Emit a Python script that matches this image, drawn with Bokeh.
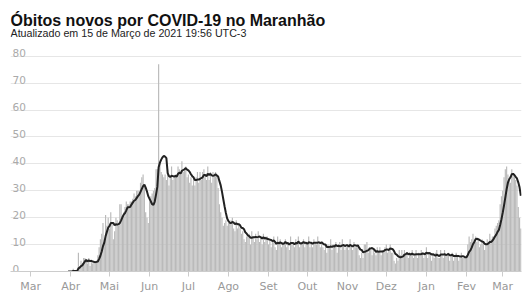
import pandas as pd
from bokeh.plotting import figure
from bokeh.models import Range1d, FixedTicker, ColumnDataSource
from bokeh.embed import file_html
from bokeh.resources import INLINE
from bokeh.core.properties import value

title_text = "Óbitos novos por COVID-19 no Maranhão"
subtitle_text = "Atualizado em 15 de Março de 2021 19:56 UTC-3"

start_date = "2020-03-30"
deaths = [
    0, 0, 0, 0, 1, 0, 0,
    0, 7, 2, 4, 3, 5, 5,
    4, 3, 5, 2, 4, 3, 4,
    3, 4, 6, 9, 12, 14, 18,
    12, 21, 17, 20, 16, 22, 18,
    12, 15, 20, 19, 17, 25, 25,
    20, 22, 24, 26, 25, 25, 26,
    26, 27, 29, 28, 30, 30, 30,
    33, 35, 36, 32, 22, 20, 18,
    26, 28, 29, 30, 31, 38, 38,
    77, 40, 37, 36, 35, 36, 34,
    38, 32, 35, 39, 34, 35, 36,
    36, 39, 38, 37, 41, 37, 38,
    39, 35, 36, 33, 35, 32, 35,
    32, 35, 37, 33, 37, 34, 37,
    38, 35, 34, 39, 34, 37, 33,
    37, 36, 37, 36, 31, 25, 22,
    20, 17, 18, 19, 17, 18, 18,
    19, 20, 16, 15, 19, 16, 18,
    16, 14, 15, 12, 11, 13, 13,
    14, 10, 15, 13, 11, 14, 12,
    15, 11, 13, 10, 14, 11, 13,
    13, 10, 12, 9, 11, 13, 9,
    8, 13, 10, 12, 9, 11, 10,
    12, 9, 11, 8, 13, 11, 10,
    9, 12, 10, 13, 9, 10, 11,
    12, 9, 11, 10, 13, 9, 11,
    9, 12, 11, 10, 13, 10, 9,
    11, 9, 8, 10, 7, 10, 9,
    12, 8, 10, 9, 11, 7, 10,
    11, 8, 12, 10, 8, 9, 10,
    8, 12, 10, 8, 11, 9, 9,
    9, 6, 5, 7, 5, 10, 10,
    11, 7, 9, 8, 6, 8, 7,
    6, 9, 7, 9, 6, 8, 8,
    9, 10, 7, 8, 10, 7, 7,
    4, 3, 5, 4, 8, 6, 8,
    5, 8, 6, 7, 5, 7, 6,
    8, 5, 6, 8, 5, 7, 6,
    8, 7, 5, 7, 9, 5, 7,
    7, 4, 6, 5, 7, 8, 5,
    5, 8, 6, 5, 8, 6, 6,
    7, 4, 6, 7, 4, 6, 7,
    6, 4, 5, 7, 5, 5, 5,
    6, 10, 13, 11, 12, 14, 11,
    13, 11, 12, 9, 10, 12, 10,
    8, 10, 12, 11, 14, 12, 13,
    13, 16, 17, 18, 19, 25, 28,
    30, 35, 38, 39, 36, 34, 33,
    38, 36, 35, 34, 32, 24, 20,
    16,
]

month_starts = ["2020-03-01", "2020-04-01", "2020-05-01", "2020-06-01", "2020-07-01",
                "2020-08-01", "2020-09-01", "2020-10-01", "2020-11-01", "2020-12-01",
                "2021-01-01", "2021-02-01", "2021-03-01"]
month_labels = ["Mar", "Abr", "Mai", "Jun", "Jul", "Ago", "Set", "Out", "Nov", "Dez",
                "Jan", "Fev", "Mar"]
y_ticks = [0, 10, 20, 30, 40, 50, 60, 70, 80]

base = pd.Timestamp("2020-03-01")
dates = pd.date_range(start_date, periods=len(deaths), freq="D")
days = [int(d) for d in (dates - base).days]
avg = pd.Series(deaths, dtype=float).rolling(7, min_periods=1).mean().tolist()
tick_days = [int((pd.Timestamp(m) - base).days) for m in month_starts]

src = ColumnDataSource(dict(day=days, deaths=deaths, avg=avg))

x0, x1 = -15.5, 379.5
y_top = 100.7
p = figure(width=532, height=299, output_backend="svg", toolbar_location=None,
           x_range=Range1d(x0, x1), y_range=Range1d(0, y_top),
           min_border_left=10, min_border_right=11, min_border_top=0,
           min_border_bottom=28, outline_line_color=None,
           background_fill_color="white", border_fill_color="white")

p.yaxis.visible = False
p.xgrid.visible = False
p.ygrid.ticker = FixedTicker(ticks=y_ticks[1:])
p.ygrid.grid_line_color = "#e6e6e6"
p.ygrid.grid_line_width = 1

ax = p.xaxis[0]
ax.ticker = FixedTicker(ticks=tick_days)
ax.major_label_overrides = {t: l for t, l in zip(tick_days, month_labels)}
ax.axis_line_color = "#cccccc"
ax.major_tick_line_color = "#cccccc"
ax.major_tick_out = 5
ax.major_tick_in = 0
ax.minor_tick_line_color = None
ax.major_label_text_font = "DejaVu Sans"
ax.major_label_text_font_size = "11px"
ax.major_label_text_color = "#999999"
ax.major_label_standoff = 3

p.vbar(x="day", top="deaths", bottom=0, width=0.9, source=src,
       fill_color="#bababa", line_color=None)
p.line(x="day", y="avg", source=src, line_color="#222222", line_width=2)

p.text(x=[x0] * len(y_ticks), y=y_ticks, text=[str(v) for v in y_ticks],
       text_font=value("DejaVu Sans"), text_font_size="10.5px", text_color="#aaaaaa",
       text_baseline="alphabetic", text_align="left", x_offset=2, y_offset=-3)

p.text(x=[x0], y=[y_top], text=[title_text], text_font=value("Liberation Sans"),
       text_font_size="16px", text_font_style="bold", text_color="#111111",
       text_baseline="alphabetic", text_align="left", x_offset=0, y_offset=20)
p.text(x=[x0], y=[y_top], text=[subtitle_text], text_font=value("Liberation Sans"),
       text_font_size="10.7px", text_color="#222222",
       text_baseline="alphabetic", text_align="left", x_offset=0, y_offset=32)

open("out.html", "w").write(file_html(p, INLINE))
